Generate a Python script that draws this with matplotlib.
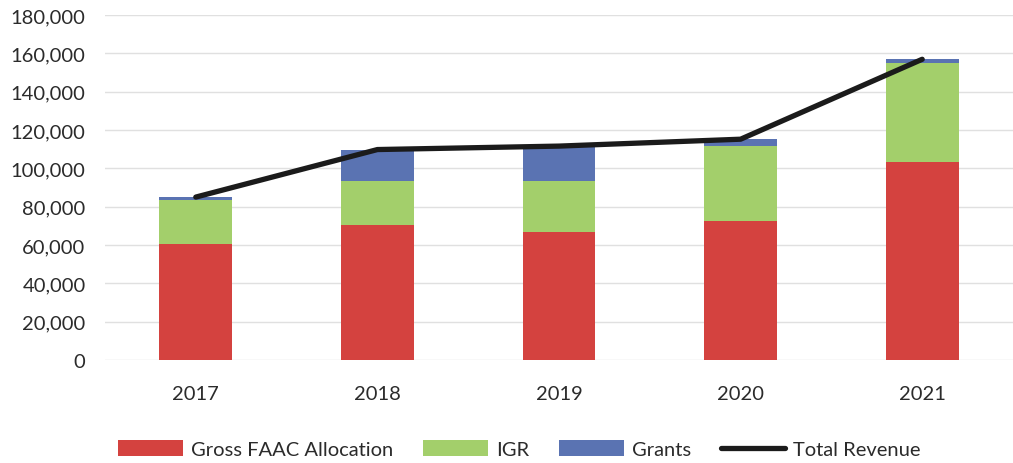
import numpy as np
import matplotlib.pyplot as plt
from matplotlib.ticker import FuncFormatter

years = ["2017", "2018", "2019", "2020", "2021"]
faac = [60700, 70500, 67000, 72600, 103500]
igr = [22600, 22800, 26200, 39200, 51200]
grants = [1700, 16500, 18400, 3400, 2200]
total = [85000, 109800, 111600, 115200, 156900]

plt.rcParams['font.family'] = ['Lato', 'DejaVu Sans']

fig = plt.figure(figsize=(10.13, 4.64), dpi=100)
ax = fig.add_axes([105 / 1013, 1 - 361 / 464, 1 - 105 / 1013, (361 - 16) / 464])

x = np.arange(len(years))
w = 0.4
faac_a = np.array(faac)
igr_a = np.array(igr)
b1 = ax.bar(x, faac, w, color="#d4423f", label="Gross FAAC Allocation", zorder=2)
b2 = ax.bar(x, igr, w, bottom=faac_a, color="#a3cf6b", label="IGR", zorder=2)
b3 = ax.bar(x, grants, w, bottom=faac_a + igr_a, color="#5a73b2", label="Grants", zorder=2)
ln, = ax.plot(x, total, color="#1b1b1b", lw=3.8, solid_capstyle="round",
              label="Total Revenue", zorder=3)

ax.set_xlim(-0.5, len(years) - 0.5)
ax.set_ylim(0, 180000)
ax.set_yticks(range(0, 180001, 20000))
ax.yaxis.set_major_formatter(FuncFormatter(lambda v, p: "{:,.0f}".format(v)))
ax.set_xticks(x)
ax.set_xticklabels(years)
ax.grid(axis="y", color="#e0e0e0", lw=1, zorder=0)
for s in ax.spines.values():
    s.set_visible(False)
ax.tick_params(length=0, labelsize=14.5, labelcolor="#2b2b2b")
ax.tick_params(axis="x", pad=18)
ax.tick_params(axis="y", pad=14)

fig.legend([b1, b2, b3, ln], ["Gross FAAC Allocation", "IGR", "Grants", "Total Revenue"],
           loc="lower center", bbox_to_anchor=(0.513, -0.028), ncol=4, frameon=False,
           fontsize=14.5, handlelength=3.2, handleheight=0.8, columnspacing=1.5,
           handletextpad=0.4, labelcolor="#2b2b2b")

fig.savefig("out.png", dpi=100)
